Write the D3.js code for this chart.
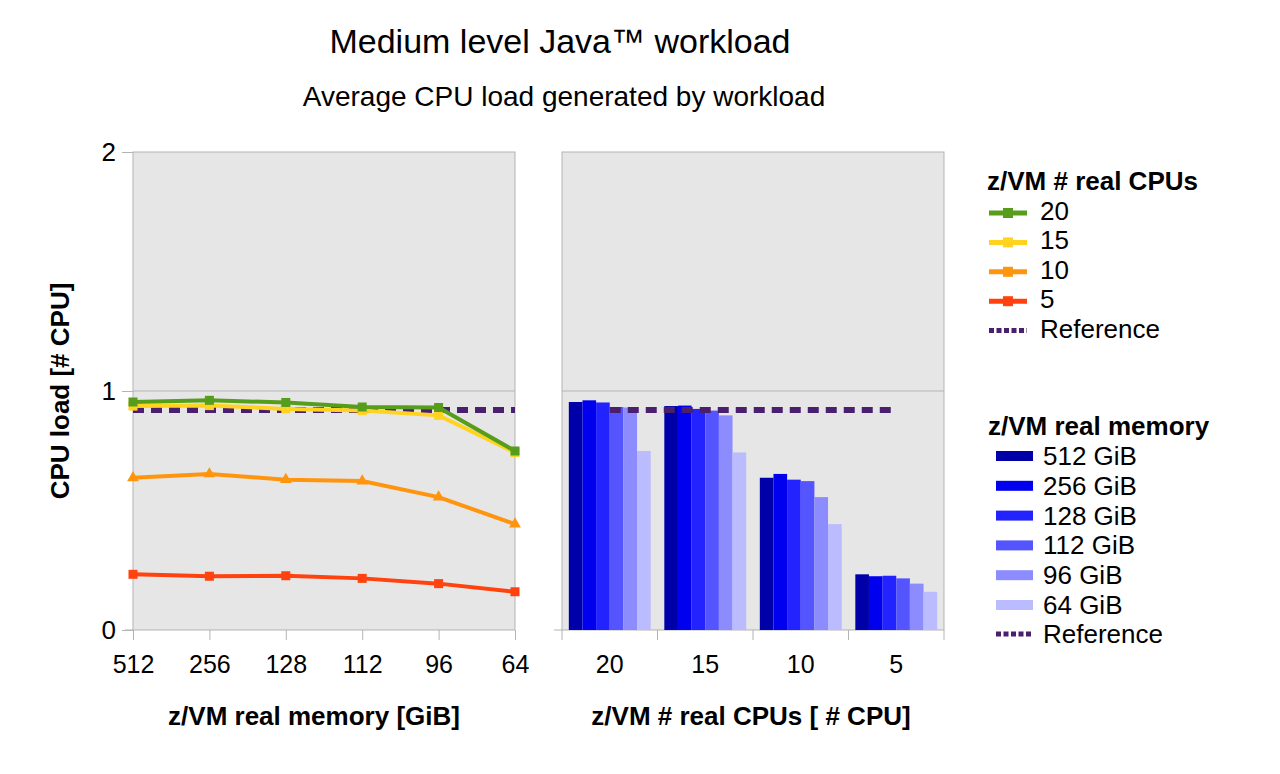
<!DOCTYPE html>
<html>
<head>
<meta charset="utf-8">
<script src="https://cdn.jsdelivr.net/npm/d3@7"></script>
<style>
  body { margin: 0; background: #ffffff; }
  svg { display: block; font-family: "Liberation Sans", Arial, sans-serif; }
</style>
</head>
<body>
<svg id="chart"></svg>
<script>
// values
const memLabels = ["512", "256", "128", "112", "96", "64"]
const memNames = ["512 GiB", "256 GiB", "128 GiB", "112 GiB", "96 GiB", "64 GiB"]
const cpuLabels = ["20", "15", "10", "5"]
const load20 = [0.954, 0.961, 0.952, 0.933, 0.931, 0.749]
const load15 = [0.937, 0.939, 0.925, 0.918, 0.898, 0.743]
const load10 = [0.637, 0.653, 0.629, 0.623, 0.556, 0.443]
const load5 = [0.233, 0.225, 0.227, 0.216, 0.194, 0.160]
const referenceLoad = 0.92
const yTicks = [0, 1, 2]

const lineColors = ["#579d1c", "#ffd320", "#ff950e", "#ff420e"]
const barColors = ["#0000a8", "#0000ee", "#2323ff", "#5555ff", "#8c8cff", "#bbbbff"]
const refColor = "#4b1f6f"
const loads = [load20, load15, load10, load5]

const width = 1280, height = 774
const font = "Liberation Sans, Arial, sans-serif"
const svg = d3.select("#chart").attr("width", width).attr("height", height)

const plotTop = 152, plotBottom = 630
const y = d3.scaleLinear().domain([0, 2]).range([plotBottom, plotTop])
const xL = d3.scalePoint().domain(memLabels).range([133, 515])
const xR = d3.scaleBand().domain(cpuLabels).range([562, 944])
const xSub = d3.scaleBand().domain(memLabels).range([0, xR.bandwidth()]).paddingOuter(0.5)

// titles
svg.append("text").attr("x", 560).attr("y", 53).attr("text-anchor", "middle")
    .style("font-size", "34px").text("Medium level Java™ workload")
svg.append("text").attr("x", 564).attr("y", 106).attr("text-anchor", "middle")
    .style("font-size", "28px").text("Average CPU load generated by workload")

// plot backgrounds
function panel(x0, x1) {
    svg.append("rect").attr("x", x0).attr("y", plotTop).attr("width", x1 - x0).attr("height", plotBottom - plotTop)
        .style("fill", "#e6e6e6").style("stroke", "#b3b3b3").style("stroke-width", 1)
    svg.append("line").attr("x1", x0).attr("x2", x1).attr("y1", y(1)).attr("y2", y(1))
        .style("stroke", "#b3b3b3").style("stroke-width", 1)
    svg.append("line").attr("x1", x0 - 8).attr("x2", x0).attr("y1", y(0)).attr("y2", y(0))
        .style("stroke", "#b3b3b3").style("stroke-width", 1)
}
panel(133, 515)
panel(562, 944)

// y axis
const yAxis = svg.append("g").attr("transform", "translate(133,0)")
    .call(d3.axisLeft(y).tickValues(yTicks).tickSize(11).tickPadding(6).tickFormat(d3.format("d")))
yAxis.select(".domain").remove()
yAxis.selectAll("line").style("stroke", "#b3b3b3")
yAxis.selectAll("text").style("font-size", "26px").style("fill", "#000").style("font-family", font)

svg.append("text").attr("transform", "translate(69,391) rotate(-90)").attr("text-anchor", "middle")
    .style("font-size", "26px").style("font-weight", "bold").text("CPU load [# CPU]")

// left x axis
const xAxisL = svg.append("g").attr("transform", "translate(0," + plotBottom + ")")
    .call(d3.axisBottom(xL).tickSize(10).tickPadding(15))
xAxisL.select(".domain").remove()
xAxisL.selectAll("line").style("stroke", "#b3b3b3")
xAxisL.selectAll("text").style("font-size", "25px").style("fill", "#000").style("font-family", font)

// right x axis, ticks between categories
const xAxisR = svg.append("g").attr("transform", "translate(0," + plotBottom + ")")
    .call(d3.axisBottom(xR).tickSize(0).tickPadding(25))
xAxisR.select(".domain").remove()
xAxisR.selectAll("text").style("font-size", "25px").style("fill", "#000").style("font-family", font)
xAxisR.selectAll(".sep")
    .data(cpuLabels.map(d => xR(d)).concat([xR.range()[1]]))
    .enter().append("line")
    .attr("x1", d => d).attr("x2", d => d).attr("y1", 0).attr("y2", 10)
    .style("stroke", "#b3b3b3")

svg.append("text").attr("x", 314).attr("y", 725).attr("text-anchor", "middle")
    .style("font-size", "26px").style("font-weight", "bold").text("z/VM real memory [GiB]")
svg.append("text").attr("x", 751).attr("y", 725).attr("text-anchor", "middle")
    .style("font-size", "26px").style("font-weight", "bold").text("z/VM # real CPUs [ # CPU]")

// bars
cpuLabels.forEach(function(c, ci) {
    svg.append("g").selectAll("rect")
        .data(loads[ci])
        .enter().append("rect")
        .attr("x", (d, i) => xR(c) + xSub(memLabels[i]))
        .attr("width", xSub.bandwidth())
        .attr("y", d => y(d))
        .attr("height", d => y(0) - y(d))
        .style("fill", (d, i) => barColors[i])
})

// reference lines
svg.append("line").attr("x1", xL(memLabels[0])).attr("x2", xL(memLabels[memLabels.length - 1]))
    .attr("y1", y(referenceLoad)).attr("y2", y(referenceLoad))
    .style("stroke", refColor).style("stroke-width", 6).style("stroke-dasharray", "11,7")
svg.append("line").attr("x1", xR(cpuLabels[0]) + xR.bandwidth() / 2)
    .attr("x2", xR(cpuLabels[cpuLabels.length - 1]) + xR.bandwidth() / 2)
    .attr("y1", y(referenceLoad)).attr("y2", y(referenceLoad))
    .style("stroke", refColor).style("stroke-width", 6).style("stroke-dasharray", "11,7")

// lines, drawn from low cpu count to high so 20 ends on top
const line = d3.line().x((d, i) => xL(memLabels[i])).y(d => y(d))
for (let ci = loads.length - 1; ci >= 0; ci--) {
    const g = svg.append("g")
    g.append("path").datum(loads[ci]).attr("d", line)
        .style("fill", "none").style("stroke", lineColors[ci]).style("stroke-width", 4)
    if (ci == 2) {
        g.selectAll("path.m").data(loads[ci]).enter().append("path")
            .attr("d", d3.symbol().type(d3.symbolTriangle).size(60))
            .attr("transform", (d, i) => "translate(" + xL(memLabels[i]) + "," + y(d) + ")")
            .style("fill", lineColors[ci])
    } else {
        g.selectAll("rect.m").data(loads[ci]).enter().append("rect")
            .attr("x", (d, i) => xL(memLabels[i]) - 4.5).attr("y", d => y(d) - 4.5)
            .attr("width", 9).attr("height", 9)
            .style("fill", lineColors[ci])
    }
}

// legend 1
const leg1 = svg.append("g")
leg1.append("text").attr("x", 987).attr("y", 190).style("font-size", "26px").style("font-weight", "bold")
    .text("z/VM # real CPUs")
cpuLabels.forEach(function(c, i) {
    const yy = 213 + i * 29.4
    leg1.append("line").attr("x1", 989).attr("x2", 1027).attr("y1", yy).attr("y2", yy)
        .style("stroke", lineColors[i]).style("stroke-width", 5)
    leg1.append("rect").attr("x", 1003).attr("y", yy - 5).attr("width", 10).attr("height", 10)
        .style("fill", lineColors[i])
    leg1.append("text").attr("x", 1040).attr("y", yy + 7).style("font-size", "26px").text(c)
})
leg1.append("line").attr("x1", 989).attr("x2", 1027).attr("y1", 330.6).attr("y2", 330.6)
    .style("stroke", refColor).style("stroke-width", 5).style("stroke-dasharray", "5,2.5")
leg1.append("text").attr("x", 1040).attr("y", 337.6).style("font-size", "26px").text("Reference")

// legend 2
const leg2 = svg.append("g")
leg2.append("text").attr("x", 988).attr("y", 435).style("font-size", "26px").style("font-weight", "bold")
    .text("z/VM real memory")
memNames.forEach(function(m, i) {
    const yy = 456 + i * 29.8
    leg2.append("rect").attr("x", 996).attr("y", yy - 5).attr("width", 37).attr("height", 10)
        .style("fill", barColors[i])
    leg2.append("text").attr("x", 1043).attr("y", yy + 9).style("font-size", "26px").text(m)
})
leg2.append("line").attr("x1", 996).attr("x2", 1033).attr("y1", 634).attr("y2", 634)
    .style("stroke", refColor).style("stroke-width", 5).style("stroke-dasharray", "5,2.5")
leg2.append("text").attr("x", 1043).attr("y", 643).style("font-size", "26px").text("Reference")
</script>
</body>
</html>
